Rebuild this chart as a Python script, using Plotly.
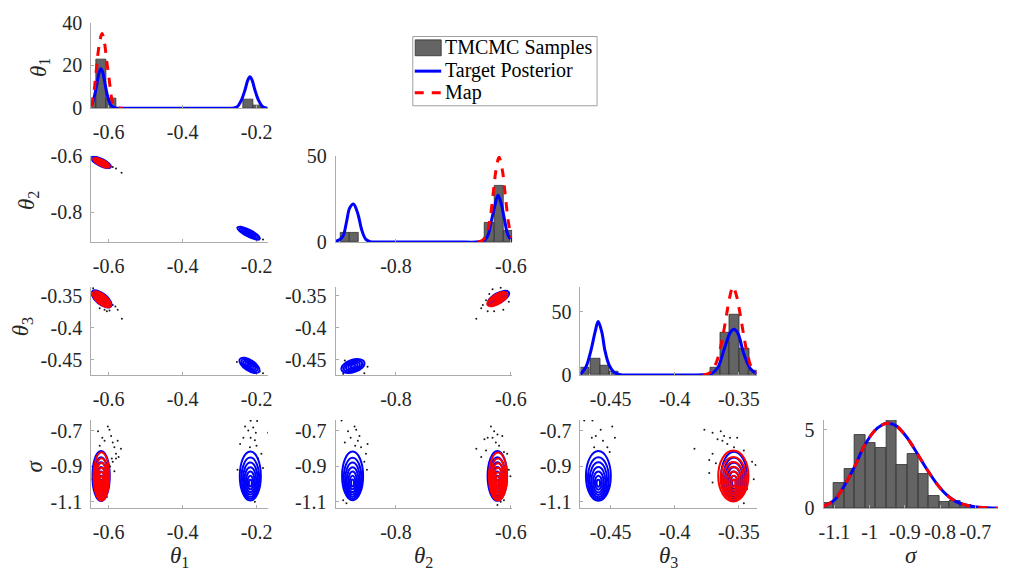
import plotly.graph_objects as go

W, H = 1013, 582
FONT = "Liberation Serif"
AX_COLOR = "#ababab"
TXT_COLOR = "#262626"
BAR_FILL = "#646464"
BAR_EDGE = "#2e2e2e"
BLUE = "#0000ff"
RED = "#ff0000"
DASH = "9px,8px"

# ---------------- axis ticks ----------------
T1_TICKS, T1_LABELS = [-0.6, -0.4, -0.2], ["-0.6", "-0.4", "-0.2"]
T2_TICKS, T2_LABELS = [-0.8, -0.6], ["-0.8", "-0.6"]
T3_TICKS, T3_LABELS = [-0.45, -0.4, -0.35], ["-0.45", "-0.4", "-0.35"]
SIG_TICKS, SIG_LABELS = [-1.1, -0.9, -0.7], ["-1.1", "-0.9", "-0.7"]
SIGH_TICKS, SIGH_LABELS = [-1.1, -1.0, -0.9, -0.8, -0.7], ["-1.1", "-1", "-0.9", "-0.8", "-0.7"]

T1_RANGE = [-0.647, -0.170]
T2_RANGE = [-0.905, -0.598]
T3_RANGE = [-0.4735, -0.3362]
SIG_RANGE = [-1.136, -0.640]
SIGH_RANGE = [-1.1306, -0.636]

# ---------------- TMCMC sample histograms (pdf normalised) ----------------
T1_BIN_X = [-0.6464, -0.6199, -0.5934, -0.2225, -0.1960]
T1_BIN_H = [4.5, 22.5, 4.5, 3.9, 1.2]
T1_BIN_W = 0.0265

T2_BIN_X = [-0.8892, -0.8734, -0.6370, -0.6213, -0.6055]
T2_BIN_H = [5.2, 5.3, 10.9, 32.5, 6.5]
T2_BIN_W = 0.0158

T3_BIN_X = [-0.4702, -0.4619, -0.4545, -0.4474, -0.3682, -0.3608, -0.3532, -0.3459, -0.3387]
T3_BIN_H = [5.8, 12.6, 7.6, 2.5, 5.8, 33.6, 47.2, 20.9, 3.8]
T3_BIN_W = 0.0076

SIG_BIN_X = [-1.1175, -1.0875, -1.0575, -1.0275, -0.9975, -0.9675, -0.9375, -0.9075,
             -0.8775, -0.8475, -0.8175, -0.7875, -0.7575, -0.7275, -0.6975]
SIG_BIN_H = [0.33, 1.6, 2.53, 4.69, 4.18, 3.81, 5.62, 2.78, 3.46, 2.16, 0.78, 0.37, 0.47, 0.2, 0.1]
SIG_BIN_W = 0.03

# ---------------- target posterior marginals ----------------
TGT_T1_X = [-0.647, -0.640, -0.631, -0.626, -0.621, -0.616, -0.611, -0.602, -0.593, -0.584,
            -0.575, -0.560, -0.400, -0.270, -0.262, -0.252, -0.241, -0.231, -0.224, -0.218,
            -0.212, -0.205, -0.195, -0.184, -0.174, -0.170]
TGT_T1_Y = [1.0, 4.5, 12.0, 16.5, 18.4, 16.8, 12.5, 5.0, 1.2, 0.2,
            0, 0, 0, 0, 0.05, 0.7, 3.8, 8.7, 13.0, 14.7,
            13.0, 8.7, 3.8, 0.7, 0.05, 0]

TGT_T2_X = [-0.905, -0.8975, -0.8919, -0.8862, -0.8805, -0.8740, -0.8664, -0.8597, -0.8524,
            -0.845, -0.835, -0.700, -0.655, -0.6461, -0.6405, -0.6337, -0.6280, -0.6224,
            -0.6168, -0.6111, -0.6055, -0.598]
TGT_T2_Y = [0.3, 1.5, 3.6, 11.5, 19.9, 22.2, 16.5, 7.1, 1.5,
            0.2, 0, 0, 0.05, 1.0, 3.4, 12.8, 21.2, 27.3,
            22.2, 12.8, 4.3, 0.4]

TGT_T3_X = [-0.4735, -0.4692, -0.4654, -0.4620, -0.4597, -0.4569, -0.4543, -0.4512, -0.4474,
            -0.4423, -0.435, -0.385, -0.3782, -0.3718, -0.3666, -0.3615, -0.3569, -0.3538,
            -0.3508, -0.3462, -0.3410, -0.3362]
TGT_T3_Y = [0.5, 6.3, 18.9, 34.1, 42.1, 34.1, 18.9, 8.0, 2.3,
            0.2, 0, 0, 0.1, 0.8, 5.5, 20.0, 33.0, 36.0,
            33.0, 17.0, 5.0, 0.9]

TGT_SIG_X = [-1.131, -1.115, -1.098, -1.075, -1.0425, -1.0148, -0.987, -0.965, -0.950, -0.935,
             -0.922, -0.894, -0.867, -0.839, -0.811, -0.783, -0.756, -0.728, -0.691, -0.636]
TGT_SIG_Y = [0.12, 0.28, 0.55, 1.3, 2.65, 3.97, 4.9, 5.3, 5.41, 5.35,
             5.2, 4.5, 3.56, 2.53, 1.6, 0.88, 0.43, 0.2, 0.06, 0.0]

# ---------------- MAP marginals ----------------
MAP_T1_X = [-0.647, -0.6445, -0.640, -0.6366, -0.6326, -0.6286, -0.623, -0.618, -0.613,
            -0.6093, -0.6045, -0.5995, -0.595, -0.5907, -0.585, -0.578, -0.562]
MAP_T1_Y = [0.8, 2.7, 7.0, 12.4, 19.0, 25.9, 32.0, 34.9, 32.5,
            28.2, 21.0, 14.7, 8.5, 3.5, 1.0, 0.2, 0]

MAP_T2_X = [-0.6575, -0.650, -0.643, -0.637, -0.631, -0.626, -0.6207, -0.615, -0.610,
            -0.605, -0.600, -0.598]
MAP_T2_Y = [0, 0.8, 4.0, 12.0, 28.0, 42.0, 49.4, 42.0, 28.0, 13.0, 4.0, 2.5]

MAP_T3_X = [-0.3782, -0.375, -0.372, -0.369, -0.366, -0.363, -0.360, -0.357, -0.3546,
            -0.352, -0.349, -0.346, -0.343, -0.340, -0.3362]
MAP_T3_Y = [0, 0.6, 2.2, 6.5, 14.5, 28.0, 45.0, 62.0, 69.5, 63.0, 48.0, 30.0, 15.0, 5.5, 1.5]

MAP_SIG_X = TGT_SIG_X
MAP_SIG_Y = TGT_SIG_Y

# ---------------- TMCMC samples visible around the contours ----------------
S12_X = [-0.5889, -0.5801, -0.5650, -0.2516, -0.2427, -0.1933, -0.1827]
S12_Y = [-0.6378, -0.6435, -0.6583, -0.8540, -0.8506, -0.8915, -0.8960]

S13_X = [-0.6419, -0.6242, -0.6110, -0.5977, -0.5889, -0.5818, -0.5756, -0.6048, -0.5642,
         -0.2533, -0.1827, -0.1915, -0.2313]
S13_Y = [-0.3387, -0.3697, -0.3722, -0.3731, -0.3648, -0.3672, -0.3722, -0.3746, -0.3859,
         -0.4534, -0.4706, -0.4682, -0.4485]

S23_X = [-0.6517, -0.6489, -0.6405, -0.6320, -0.6178, -0.6066, -0.6037, -0.6133, -0.6292,
         -0.6602, -0.6066, -0.6376, -0.6433, -0.8890, -0.8580, -0.8495, -0.8919, -0.8551]
S23_Y = [-0.3697, -0.3648, -0.3746, -0.3402, -0.3377, -0.3500, -0.3598, -0.3722, -0.3746,
         -0.3859, -0.3426, -0.3475, -0.3574, -0.4509, -0.4568, -0.4608, -0.4716, -0.4706]

S1S_X = [-0.6286, -0.6171, -0.6021, -0.5977, -0.5933, -0.6110, -0.5889, -0.6242, -0.5845,
         -0.5756, -0.5668, -0.5801, -0.5730, -0.5889, -0.5960, -0.5845, -0.6419, -0.6436,
         -0.6242, -0.6154, -0.6048, -0.5915, -0.5801,
         -0.2162, -0.1986, -0.2313, -0.2092, -0.2224, -0.2021, -0.1695, -0.2357, -0.2162,
         -0.2047, -0.2445, -0.2003, -0.2180, -0.1871, -0.1959, -0.2516, -0.1827, -0.1915,
         -0.2047]
S1S_Y = [-0.7036, -0.7396, -0.6766, -0.6946, -0.7306, -0.7577, -0.7667, -0.7847, -0.7937,
         -0.7577, -0.8027, -0.8297, -0.8477, -0.8748, -0.9018, -0.9288, -0.9108, -0.9739,
         -1.0820, -1.0730, -1.0730, -0.8568, -0.8568,
         -0.6440, -0.6459, -0.6766, -0.6820, -0.7000, -0.7126, -0.7126, -0.7396, -0.7396,
         -0.7541, -0.7757, -0.7847, -0.7937, -0.8297, -0.8568, -0.9198, -0.9108, -1.0099,
         -1.1000]

S2S_X = [-0.8947, -0.8834, -0.8721, -0.8693, -0.8789, -0.8636, -0.8664, -0.8890, -0.8710,
         -0.8608, -0.8495, -0.8523, -0.8551, -0.8506, -0.8919, -0.8862,
         -0.6348, -0.6292, -0.6235, -0.6405, -0.6320, -0.6150, -0.6461, -0.6263, -0.6207,
         -0.6602, -0.6433, -0.6122, -0.6066, -0.6517, -0.6037, -0.6009, -0.6122, -0.6178,
         -0.6235]
S2S_Y = [-0.6430, -0.7036, -0.6766, -0.6946, -0.7396, -0.7306, -0.7577, -0.7667, -0.7847,
         -0.7937, -0.7757, -0.8297, -0.8748, -0.9198, -1.0910, -1.1090,
         -0.6766, -0.7036, -0.7216, -0.7396, -0.7396, -0.7306, -0.7486, -0.7667, -0.7847,
         -0.8027, -0.8117, -0.8207, -0.8297, -0.8477, -0.9198, -0.9559, -1.0910, -1.1000,
         -1.1180]

S3S_X = [-0.4705, -0.4641, -0.4646, -0.4615, -0.4577, -0.4559, -0.4487, -0.4466, -0.4628,
         -0.4525, -0.4507,
         -0.3769, -0.3705, -0.3641, -0.3615, -0.3666, -0.3569, -0.3590, -0.3628, -0.3538,
         -0.3705, -0.3731, -0.3679, -0.3461, -0.3397, -0.3370, -0.3384, -0.3705, -0.3731,
         -0.3436, -0.3461, -0.3846, -0.3513]
S3S_Y = [-0.6430, -0.6430, -0.7396, -0.7306, -0.6946, -0.7577, -0.6766, -0.7396, -0.7937,
         -0.7937, -0.8207,
         -0.6946, -0.7126, -0.7036, -0.7306, -0.7486, -0.7396, -0.7757, -0.7577, -0.7937,
         -0.8297, -0.8658, -0.8838, -0.8117, -0.8748, -0.8928, -0.9739, -0.9919, -0.9378,
         -1.0279, -1.1090, -0.8027, -0.7396]

# ---------------- contour ellipses: centre, major half-axis, minor half-axis ----------------
# (cx, cy, ax, ay, bx, by) in data units of the panel
C12_TGT = [(-0.6207, -0.6212, 0.0265, -0.0171, -0.00437, -0.0113),
           (-0.2215, -0.8738, 0.0300, -0.0198, -0.00424, -0.0106)]
C12_MAP = [(-0.6193, -0.6226, 0.0220, -0.0143, -0.00358, -0.00911)]

C13_TGT = [(-0.6193, -0.3552, 0.0252, -0.0118, -0.0098, -0.00635),
           (-0.2193, -0.4585, 0.0257, -0.0099, -0.0083, -0.0067)]
C13_MAP = [(-0.6185, -0.3559, 0.0230, -0.0111, -0.00864, -0.0056)]

C23_TGT = [(-0.6215, -0.3537, 0.0178, 0.0089, 0.0044, -0.0066),
           (-0.8749, -0.4596, 0.0198, 0.0059, 0.0036, -0.0091)]
C23_MAP = [(-0.6236, -0.3556, 0.0170, 0.0092, 0.00446, -0.00628)]

C1S_TGT = [(-0.6205, -0.955, 0.0235, 0, 0, 0.141),
           (-0.2170, -0.955, 0.0285, 0, 0, 0.138)]
C1S_MAP = [(-0.6195, -0.958, 0.0210, 0, 0, 0.137)]

C2S_TGT = [(-0.8755, -0.955, 0.0183, 0, 0, 0.137),
           (-0.6236, -0.955, 0.0170, 0, 0, 0.140)]
C2S_MAP = [(-0.6225, -0.958, 0.0158, 0, 0, 0.135)]

C3S_TGT = [(-0.4595, -0.955, 0.0097, 0, 0, 0.140),
           (-0.3538, -0.955, 0.0100, 0, 0, 0.136)]
C3S_MAP = [(-0.3543, -0.955, 0.0118, 0, 0, 0.143)]

# contour level sets: relative size and drift of each inner level
LEVELS_THETA = [(1.0, 0.0), (0.8, 0.0), (0.6, 0.0), (0.4, 0.0), (0.2, 0.0)]
LEVELS_SIGMA = [(1.0, 0.0), (0.84, 0.09), (0.70, 0.15), (0.56, 0.20), (0.42, 0.24),
                (0.28, 0.27), (0.14, 0.29)]

# ---------------- layout geometry (pixels) ----------------
COLS = [(88, 268), (337.3, 517.3), (587, 766.7), (835, 1013)]
ROWS = [(12, 101), (150.5, 240), (286.5, 378.3), (425, 516.7)]

PANELS = {
    1: (0, 0, T1_RANGE, [0, 40], (T1_TICKS, T1_LABELS), ([0, 20, 40], ["0", "20", "40"])),
    2: (1, 0, T1_RANGE, T2_RANGE, (T1_TICKS, T1_LABELS), (T2_TICKS, T2_LABELS)),
    3: (1, 1, T2_RANGE, [0, 50.3], (T2_TICKS, T2_LABELS), ([0, 50], ["0", "50"])),
    4: (2, 0, T1_RANGE, T3_RANGE, (T1_TICKS, T1_LABELS), (T3_TICKS, T3_LABELS)),
    5: (2, 1, T2_RANGE, T3_RANGE, (T2_TICKS, T2_LABELS), (T3_TICKS, T3_LABELS)),
    6: (2, 2, T3_RANGE, [0, 69.6], (T3_TICKS, T3_LABELS), ([0, 50], ["0", "50"])),
    7: (3, 0, T1_RANGE, SIG_RANGE, (T1_TICKS, T1_LABELS), (SIG_TICKS, SIG_LABELS)),
    8: (3, 1, T2_RANGE, SIG_RANGE, (T2_TICKS, T2_LABELS), (SIG_TICKS, SIG_LABELS)),
    9: (3, 2, T3_RANGE, SIG_RANGE, (T3_TICKS, T3_LABELS), (SIG_TICKS, SIG_LABELS)),
    10: (3, 3, SIGH_RANGE, [0, 5.62], (SIGH_TICKS, SIGH_LABELS), ([0, 5], ["0", "5"])),
}

fig = go.Figure()


def ref(i):
    return ("x" if i == 1 else f"x{i}"), ("y" if i == 1 else f"y{i}")


layout_axes = {}
for i, (r, c, xr, yr, (xt, xl), (yt, yl)) in PANELS.items():
    xa, ya = ref(i)
    common = dict(showline=True, linecolor=AX_COLOR, linewidth=1, ticks="inside", ticklen=3,
                  tickcolor=AX_COLOR, showgrid=False, zeroline=False, fixedrange=True,
                  tickfont=dict(family=FONT, size=20, color=TXT_COLOR), tickangle=0)
    layout_axes["xaxis" if i == 1 else f"xaxis{i}"] = dict(
        domain=[COLS[c][0] / W, COLS[c][1] / W], range=xr, anchor=ya,
        tickvals=xt, ticktext=xl, ticklabelstandoff=6, **common)
    layout_axes["yaxis" if i == 1 else f"yaxis{i}"] = dict(
        domain=[1 - ROWS[r][1] / H, 1 - ROWS[r][0] / H], range=yr, anchor=xa,
        tickvals=yt, ticktext=yl, ticklabelstandoff=4, **common)


def add_hist(i, bx, bh, bw, tx, ty, mx, my):
    xa, ya = ref(i)
    fig.add_trace(go.Bar(x=bx, y=bh, width=bw, xaxis=xa, yaxis=ya, showlegend=False,
                         marker=dict(color=BAR_FILL, line=dict(color=BAR_EDGE, width=0.8))))
    fig.add_trace(go.Scatter(x=tx, y=ty, xaxis=xa, yaxis=ya, mode="lines", showlegend=False,
                             line=dict(color=BLUE, width=3, shape="spline", smoothing=1)))
    fig.add_trace(go.Scatter(x=mx, y=my, xaxis=xa, yaxis=ya, mode="lines", showlegend=False,
                             line=dict(color=RED, width=3, dash=DASH, shape="spline", smoothing=1)))


add_hist(1, T1_BIN_X, T1_BIN_H, T1_BIN_W, TGT_T1_X, TGT_T1_Y, MAP_T1_X, MAP_T1_Y)
add_hist(3, T2_BIN_X, T2_BIN_H, T2_BIN_W, TGT_T2_X, TGT_T2_Y, MAP_T2_X, MAP_T2_Y)
add_hist(6, T3_BIN_X, T3_BIN_H, T3_BIN_W, TGT_T3_X, TGT_T3_Y, MAP_T3_X, MAP_T3_Y)
add_hist(10, SIG_BIN_X, SIG_BIN_H, SIG_BIN_W, TGT_SIG_X, TGT_SIG_Y, MAP_SIG_X, MAP_SIG_Y)

BEZ = 0.5523  # Bezier handle length for a quarter ellipse


def ellipse_path(cx, cy, ax, ay, bx, by):
    def p(u, v):
        return f"{cx + u * ax + v * bx:.6f},{cy + u * ay + v * by:.6f}"
    k = BEZ
    d = "M" + p(1, 0)
    for c1, c2, e in [((1, k), (k, 1), (0, 1)), ((-k, 1), (-1, k), (-1, 0)),
                      ((-1, -k), (-k, -1), (0, -1)), ((k, -1), (1, -k), (1, 0))]:
        d += " C" + p(*c1) + " " + p(*c2) + " " + p(*e)
    return d + " Z"


shapes = []


def add_contours(i, clusters, levels, color):
    xa, ya = ref(i)
    for (cx, cy, ax, ay, bx, by) in clusters:
        for s, drift in levels:
            shapes.append(dict(type="path", xref=xa, yref=ya, layer="above",
                               path=ellipse_path(cx - drift * bx, cy - drift * by,
                                                 ax * s, ay * s, bx * s, by * s),
                               line=dict(color=color, width=2)))


def add_samples(i, sx, sy):
    xa, ya = ref(i)
    fig.add_trace(go.Scatter(x=sx, y=sy, xaxis=xa, yaxis=ya, mode="markers", showlegend=False,
                             marker=dict(color="#1a1a1a", size=2)))


for i, sx, sy, ctgt, cmap, lv in [
        (2, S12_X, S12_Y, C12_TGT, C12_MAP, LEVELS_THETA),
        (4, S13_X, S13_Y, C13_TGT, C13_MAP, LEVELS_THETA),
        (5, S23_X, S23_Y, C23_TGT, C23_MAP, LEVELS_THETA),
        (7, S1S_X, S1S_Y, C1S_TGT, C1S_MAP, LEVELS_SIGMA),
        (8, S2S_X, S2S_Y, C2S_TGT, C2S_MAP, LEVELS_SIGMA),
        (9, S3S_X, S3S_Y, C3S_TGT, C3S_MAP, LEVELS_SIGMA)]:
    add_samples(i, sx, sy)
    add_contours(i, ctgt, lv, BLUE)
    add_contours(i, cmap, lv, RED)

# ---------------- legend box ----------------
def px(x):
    return x / W


def py(y):
    return 1 - y / H


shapes += [
    dict(type="rect", xref="paper", yref="paper", x0=px(416), x1=px(604), y0=py(98.5), y1=py(26.5),
         line=dict(color="#a0a0a0", width=1), fillcolor="white", layer="above"),
    dict(type="rect", xref="paper", yref="paper", x0=px(418.5), x1=px(445), y0=py(46.5), y1=py(30),
         line=dict(color=BAR_EDGE, width=0.8), fillcolor=BAR_FILL, layer="above"),
    dict(type="line", xref="paper", yref="paper", x0=px(418), x1=px(445), y0=py(62.5), y1=py(62.5),
         line=dict(color=BLUE, width=3), layer="above"),
    dict(type="line", xref="paper", yref="paper", x0=px(418), x1=px(445), y0=py(85), y1=py(85),
         line=dict(color=RED, width=3, dash=DASH), layer="above"),
]

annotations = []
for txt, yc in [("TMCMC Samples", 38), ("Target Posterior", 62), ("Map", 85)]:
    annotations.append(dict(text=txt, xref="paper", yref="paper", x=px(447), y=py(yc),
                            xanchor="left", yanchor="middle", showarrow=False,
                            font=dict(family=FONT, size=20, color="black")))

# ---------------- axis titles ----------------
TITLE_FONT = dict(family=FONT, size=23, color=TXT_COLOR)
for txt, xc in [("<i>θ</i><sub>1</sub>", 178), ("<i>θ</i><sub>2</sub>", 427),
                ("<i>θ</i><sub>3</sub>", 677), ("<i>σ</i>", 925)]:
    annotations.append(dict(text=txt, xref="paper", yref="paper", x=px(xc), y=py(551),
                            xanchor="center", yanchor="top", showarrow=False, font=TITLE_FONT))
for txt, xc, yc in [("<i>θ</i><sub>1</sub>", 35, 59), ("<i>θ</i><sub>2</sub>", 23, 197),
                    ("<i>θ</i><sub>3</sub>", 17, 328), ("<i>σ</i>", 30, 473)]:
    annotations.append(dict(text=txt, xref="paper", yref="paper", x=px(xc), y=py(yc),
                            xanchor="center", yanchor="middle", showarrow=False, textangle=-90,
                            font=TITLE_FONT))

fig.update_layout(width=W, height=H, margin=dict(l=0, r=0, t=0, b=0),
                  paper_bgcolor="white", plot_bgcolor="white", showlegend=False,
                  bargap=0, shapes=shapes, annotations=annotations, **layout_axes)

fig.write_html("out.html")
